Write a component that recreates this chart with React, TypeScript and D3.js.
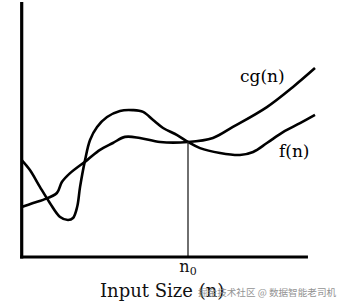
import React from "react";
import * as d3 from "d3";

const fX = [0, 2.8, 6.2, 9.6, 13.1, 15.8, 17.5, 18.9, 19.9, 21.6, 23.3, 25.7, 29.1, 33.5, 37.9, 41.4, 44.8, 48.2, 53.0, 56.7, 60.8, 67.6, 74.4, 78.9, 83.6, 89.1, 94.9, 100];
const fY = [38.0, 34.1, 27.5, 21.2, 15.7, 14.5, 15.3, 19.6, 27.5, 38.0, 45.9, 51.0, 54.9, 57.3, 57.6, 56.9, 53.7, 50.6, 47.8, 45.1, 42.7, 40.8, 40.0, 41.2, 44.7, 49.0, 52.5, 55.7];
const gX = [0, 3.9, 7.3, 12.0, 13.7, 16.5, 22.3, 26.7, 31.1, 35.2, 40.3, 47.2, 56.7, 65.2, 72.0, 83.6, 92.5, 100];
const gY = [19.6, 21.2, 22.4, 25.1, 29.4, 32.9, 38.0, 42.0, 44.7, 47.1, 46.7, 45.1, 45.1, 46.7, 51.0, 58.8, 66.7, 74.1];
const n0 = 56.7;
const n0Y = 45.1;
const axisXMax = 97.6;

export default function App() {
  const W = 339, H = 308;
  const x = d3.scaleLinear().domain([0, 100]).range([21.7, 315]);
  const y = d3.scaleLinear().domain([0, 100]).range([257, 2]);
  const line = d3.line<[number, number]>().x(d => x(d[0])).y(d => y(d[1])).curve(d3.curveCatmullRom.alpha(0.5));
  const fPts = fX.map((v, i) => [v, fY[i]] as [number, number]);
  const gPts = gX.map((v, i) => [v, gY[i]] as [number, number]);
  const serif = "'Palatino Linotype','Book Antiqua','DejaVu Serif',serif";
  return (
    <svg width={W} height={H} style={{ position: "absolute", left: 0, top: 0, background: "#fff" }}>
      <path d={line(fPts) || ""} fill="none" stroke="#000" strokeWidth={2.6} strokeLinejoin="round" />
      <path d={line(gPts) || ""} fill="none" stroke="#000" strokeWidth={2.6} strokeLinejoin="round" />
      <line x1={x(n0)} x2={x(n0)} y1={y(n0Y)} y2={y(0)} stroke="#222" strokeWidth={1.3} />
      <line x1={x(0)} x2={x(0)} y1={y(100)} y2={y(0) + 1.5} stroke="#000" strokeWidth={3.2} />
      <line x1={x(0) - 1.6} x2={x(axisXMax)} y1={y(0)} y2={y(0)} stroke="#000" strokeWidth={3.2} />
      <text x={240} y={82} fontFamily={serif} fontSize={17} fill="#000">cg(n)</text>
      <text x={279} y={157} fontFamily={serif} fontSize={17} fill="#000">f(n)</text>
      <text x={x(n0)} y={272} fontFamily={serif} fontSize={16} fill="#111" textAnchor="middle">n<tspan fontSize={11} dy={3}>0</tspan></text>
      <text x={100} y={297} fontFamily={serif} fontSize={18} fill="#111">Input Size (n)</text>
      <text x={198} y={296} fontFamily="'Noto Sans CJK SC',sans-serif" fontSize={9.6} fill="#888" opacity={0.9}>掘金技术社区 @ 数据智能老司机</text>
    </svg>
  );
}
